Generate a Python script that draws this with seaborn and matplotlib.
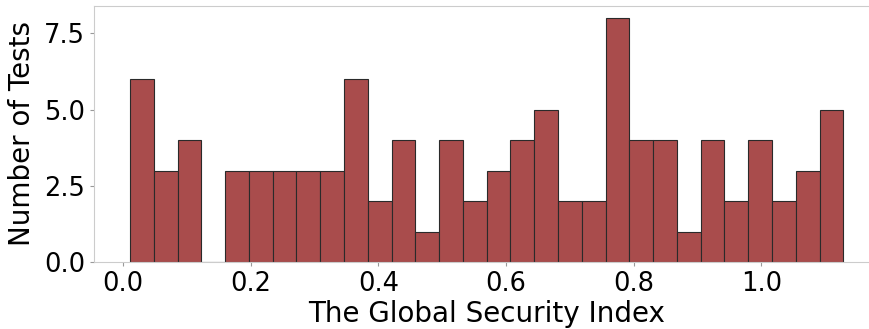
import numpy as np
import seaborn as sns
import matplotlib
matplotlib.use("Agg")
from matplotlib import pyplot as plt

# bin range of the histogram and number of tests in each bin
bin_lo = 0.0105
bin_hi = 1.1285
n_bins = 30
counts = [6, 3, 4, 0, 3, 3, 3, 3, 3, 6,
          2, 4, 1, 4, 2, 3, 4, 5, 2, 2,
          8, 4, 4, 1, 4, 2, 4, 2, 3, 5]

width = (bin_hi - bin_lo) / n_bins
centres = [bin_lo + width * (i + 0.5) for i in range(n_bins)]

sns.set_style("white", {
    "axes.edgecolor": "#cccccc",
    "xtick.bottom": True,
    "ytick.left": True,
    "xtick.color": "#999999",
    "ytick.color": "#999999",
})
plt.rcParams["font.family"] = ["DejaVu Sans"]

fig = plt.figure(figsize=(8.7, 3.29), dpi=100)
ax = fig.add_axes([94.3 / 870, (329 - 262) / 329, (879 - 94.3) / 870, (262 - 6) / 329])

sns.histplot(x=centres, weights=counts, bins=n_bins, binrange=(bin_lo, bin_hi),
             color="#a94c4c", edgecolor="#2a2a2a", linewidth=0.8, alpha=1, ax=ax)

# the reference is cropped on the right, so no right spine shows
ax.spines["right"].set_visible(False)

ax.set_yticks([0, 2.5, 5.0, 7.5])
ax.tick_params(axis="both", labelsize=18.5, labelcolor="black", length=3, width=0.8)
ax.set_xlabel("The Global Security Index", fontsize=20, color="black", labelpad=2)
ax.set_ylabel("Number of Tests", fontsize=20, color="black", labelpad=6)

fig.savefig("out.png", dpi=100)
